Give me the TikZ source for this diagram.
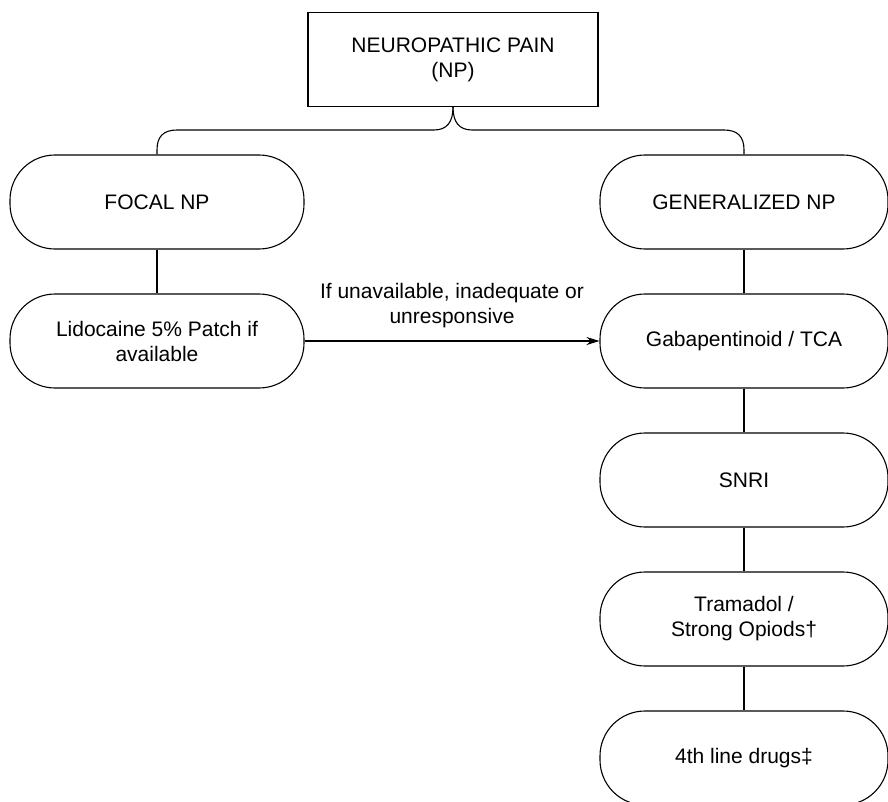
\documentclass[tikz,border=0pt]{standalone}
\usepackage{fontspec}
\setmainfont{Liberation Sans}
\usetikzlibrary{arrows.meta}
\begin{document}
\begin{tikzpicture}[x=1pt,y=-1pt,line width=1.1pt,
  txt/.style={font=\fontsize{21}{25}\selectfont, align=center},
  pill/.style={txt, draw, rounded corners=45pt, minimum width=288pt, minimum height=94pt, inner sep=0pt},
  topbox/.style={txt, draw, minimum width=290pt, minimum height=94pt, inner sep=0pt},
  link/.style={line width=1.1pt}]
\useasboundingbox (0,0) rectangle (888,802);
\clip (0,0) rectangle (888,802);
\node[topbox] (top) at (453,59.5) {NEUROPATHIC PAIN\\(NP)};
\node[pill, minimum width=294pt] (focal) at (157,202) {FOCAL NP};
\node[pill, minimum width=294pt] (lido) at (157,341) {Lidocaine 5\% Patch if\\available};
\node[pill] (gen) at (744,202) {GENERALIZED NP};
\node[pill] (gaba) at (744,341) {Gabapentinoid / TCA};
\node[pill] (snri) at (744,480) {SNRI};
\node[pill] (tram) at (744,619) {Tramadol /\\Strong Opiods†};
\node[pill] (fourth) at (744,758) {4th line drugs‡};
% brace
\coordinate (tip) at (top.south);
\draw[link] (focal.north) -- (157,150) .. controls (157,137) and (163,130) .. (177,130)
  -- (434,130) .. controls (447,130) and (453,122) .. (tip);
\draw[link] (tip) .. controls (453,122) and (459,130) .. (472,130)
  -- (724,130) .. controls (738,130) and (744,137) .. (744,150) -- (gen.north);
\draw[link] (focal) -- (lido);
\draw[link] (gen) -- (gaba);
\draw[link] (gaba) -- (snri);
\draw[link] (snri) -- (tram);
\draw[link] (tram) -- (fourth);
\draw[link, -{Stealth[length=13pt,width=8pt]}] (lido.east) -- (gaba.west)
  node[txt, midway, above=13pt, inner sep=0pt] {If unavailable, inadequate or\\unresponsive};
\end{tikzpicture}
\end{document}
